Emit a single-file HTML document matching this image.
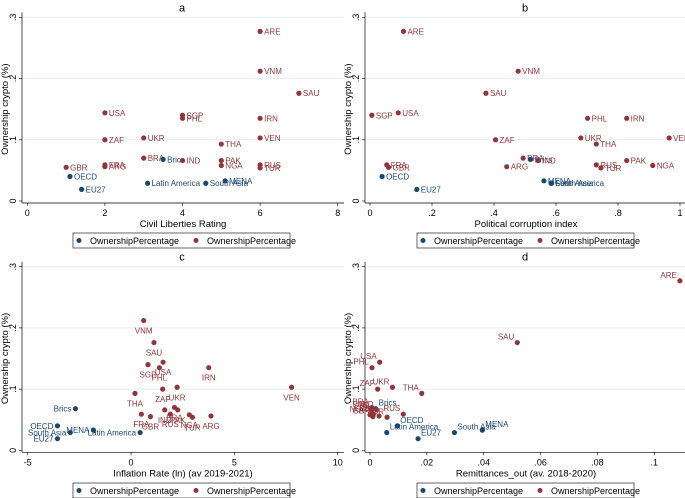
<!DOCTYPE html>
<html><head><meta charset="utf-8"><style>
html,body{margin:0;padding:0;background:#fff;}
svg{display:block;font-family:"Liberation Sans",sans-serif;}
</style></head><body>
<svg id="c" width="685" height="498"></svg>
<script>
const names = ["ARE","VNM","SAU","USA","SGP","PHL","IRN","UKR","VEN","ZAF","THA","BRA","Brics","IND","PAK","FRA","NGA","RUS","ARG","GBR","TUR","OECD","MENA","Latin America","South Asia","EU27"];
const groupBlue = [0,0,0,0,0,0,0,0,0,0,0,0,1,0,0,0,0,0,0,0,0,1,1,1,1,1];
const ownership = [.277,.212,.176,.144,.140,.135,.135,.103,.103,.100,.093,.070,.068,.066,.066,.059,.058,.059,.056,.055,.054,.040,.033,.029,.029,.019];
const civilLib = [6,6,7,2,4,4,6,3,6,2,5,3,3.5,4,5,2,5,6,2,1,6,1.1,5.1,3.1,4.6,1.4];
const corruption = [.108,.478,.374,.091,.006,.702,.828,.680,.965,.405,.730,.494,.518,.542,.828,.054,.912,.730,.441,.060,.745,.039,.561,.586,.584,.151];
const inflation = [null,.61,1.11,1.55,.82,1.37,3.76,2.23,7.77,1.53,.19,2.10,-2.69,1.63,2.26,.50,2.82,1.90,3.87,.94,2.97,-3.56,-1.82,.44,-2.94,-3.56];
const remit = [.109,null,.0518,.0034,null,.0007,null,.0079,null,.0027,.0182,.0006,.002,.0023,.0004,.0012,.0,.0117,.0032,.0010,.006,.0096,.0395,.0059,.0297,.0169];
const ticksA = ["0","2","4","6","8"], ticksAv=[0,2,4,6,8];
const ticksB = ["0",".2",".4",".6",".8","1"], ticksBv=[0,.2,.4,.6,.8,1];
const ticksC = ["-5","0","5","10"], ticksCv=[-5,0,5,10];
const ticksD = ["0",".02",".04",".06",".08",".1"], ticksDv=[0,.02,.04,.06,.08,.1];
const yTicks = ["0",".1",".2",".3"], yTicksv=[0,.1,.2,.3];

const svg=document.getElementById('c');
const NS='http://www.w3.org/2000/svg';
function mk(t,a,p){const e=document.createElementNS(NS,t);for(const k in a)e.setAttribute(k,a[k]);(p||svg).appendChild(e);return e;}
const BLUE='#1a476f', RED='#90353b';

function panel(o){
  const g=mk('g',{});
  
  
  const X=v=>o.x0+(v-o.xmin)*(o.x1-o.x0)/(o.xmax-o.xmin);
  const Y=v=>o.y0-v*(o.y0-o.y3)/0.3;
  yTicksv.forEach((v,i)=>{
    if(v>0){const l=mk('line',{x1:o.ax,x2:o.ax+322,y1:Y(v),y2:Y(v),stroke:'#e6eef0','stroke-width':1},g);
    }
    mk('line',{x1:o.ax-3,x2:o.ax,y1:Y(v),y2:Y(v),stroke:'#000','stroke-width':.6},g);
    const t=mk('text',{x:o.ax-6,y:Y(v),'font-size':9,'text-anchor':'middle',transform:`rotate(-90 ${o.ax-6} ${Y(v)})`},g);
    t.textContent=yTicks[i];
  });
  mk('line',{x1:o.ax,x2:o.ax,y1:o.y3-5,y2:o.y0+2,stroke:'#000','stroke-width':.7},g);
  mk('line',{x1:o.ax,x2:o.ax+322,y1:o.y0+2,y2:o.y0+2,stroke:'#000','stroke-width':.7},g);
  o.tv.forEach((v,i)=>{
    mk('line',{x1:X(v),x2:X(v),y1:o.y0+2,y2:o.y0+5,stroke:'#000','stroke-width':.6},g);
    const t=mk('text',{x:X(v),y:o.y0+15,'font-size':9,'text-anchor':'middle'},g);
    t.textContent=o.tl[i];
  });
  let t=mk('text',{x:(o.ax+o.ax+322)/2,y:o.y0+26,'font-size':9.5,'text-anchor':'middle'},g);
  t.textContent=o.xt;
  const yc=(o.y0+o.y3)/2;
  t=mk('text',{x:o.ax-14,y:yc,'font-size':9.5,'text-anchor':'middle',transform:`rotate(-90 ${o.ax-14} ${yc})`},g);
  t.textContent='Ownership crypto (%)';
  t=mk('text',{x:o.ax+160,y:o.y3-6,'font-size':11,'text-anchor':'middle'},g);
  t.textContent=o.title;
  o.xs.forEach((xv,i)=>{
    if(xv===null)return;
    const b=groupBlue[i], col=b?BLUE:RED, px=X(xv), py=Y(ownership[i]);
    const c=mk('circle',{cx:px,cy:py,r:2.6,fill:col},g);
    
    
    const pos=b?o.bpos:o.rpos;
    let lx=px+4,ly=py+3,an='start';
    if(pos==='below'){lx=px;ly=py+13;an='middle';}
    if(pos==='left'){lx=px-4;ly=py+3;an='end';}
    if(pos==='leftup'){lx=px-3;ly=py-3;an='end';}
    if(pos==='rightup'){lx=px+3;ly=py-3;an='start';}
    const tt=mk('text',{x:lx,y:ly,'font-size':8,fill:col,'text-anchor':an},g);
    tt.textContent=names[i];
  });
  const lg=mk('g',{},g);
  mk('rect',{x:o.lx,y:o.ly,width:217,height:15,fill:'#fff',stroke:'#000','stroke-width':.6},lg);
  [[BLUE,6],[RED,123]].forEach(([col,dx])=>{
    mk('circle',{cx:o.lx+dx,cy:o.ly+7.5,r:2.5,fill:col},lg);
    const e=mk('text',{x:o.lx+dx+11,y:o.ly+11,'font-size':9},lg);
    e.textContent='OwnershipPercentage';
  });
}
panel({title:'a',ax:22,x0:27.3,x1:337.7,xmin:0,xmax:8,y0:201,y3:17.3,xs:civilLib,tv:ticksAv,tl:ticksA,xt:'Civil Liberties Rating',rpos:'right',bpos:'right',lx:73,ly:233});
panel({title:'b',ax:365,x0:370,x1:680,xmin:0,xmax:1,y0:201,y3:17.3,xs:corruption,tv:ticksBv,tl:ticksB,xt:'Political corruption index',rpos:'right',bpos:'right',lx:417,ly:233});
panel({title:'c',ax:22,x0:27.7,x1:337.7,xmin:-5,xmax:10,y0:450.3,y3:266.7,xs:inflation,tv:ticksCv,tl:ticksC,xt:'Inflation Rate (ln) (av 2019-2021)',rpos:'below',bpos:'left',lx:73,ly:483});
panel({title:'d',ax:365,x0:370,x1:654.3,xmin:0,xmax:.1,y0:450.3,y3:266.7,xs:remit,tv:ticksDv,tl:ticksD,xt:'Remittances_out (av. 2018-2020)',rpos:'leftup',bpos:'rightup',lx:417,ly:483});
</script>
</body></html>
